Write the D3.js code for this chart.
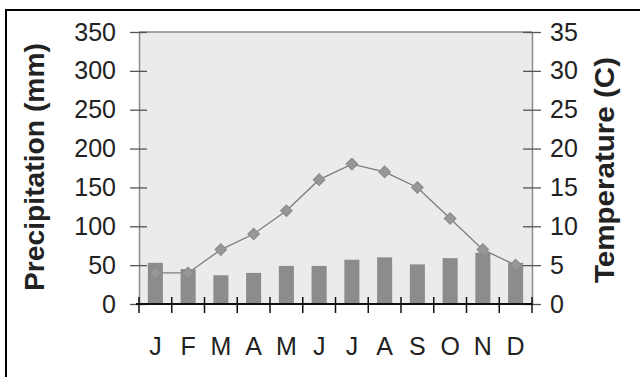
<!DOCTYPE html>
<html><head><meta charset="utf-8">
<script src="https://cdn.jsdelivr.net/npm/d3@7"></script>
<style>
body{margin:0;background:#fff;}
svg{display:block;}
text{font-family:"Liberation Sans",Arial,sans-serif;fill:#222;}
</style></head>
<body><svg id="c" width="640" height="377"></svg>
<script>
const months = ["J","F","M","A","M","J","J","A","S","O","N","D"];
const precipitation = [53, 45, 37, 40, 49, 49, 57, 60, 51, 59, 66, 53];
const temperature = [4, 4, 7, 9, 12, 16, 18, 17, 15, 11, 7, 5];
const precipTicks = [0, 50, 100, 150, 200, 250, 300, 350];
const tempTicks = [0, 5, 10, 15, 20, 25, 30, 35];
const leftTitle = "Precipitation (mm)";
const rightTitle = "Temperature (C)";

const svg = d3.select("#c");
const L = 139, R = 532, T = 32, B = 304;

// outer frame (left + top visible)
svg.append("rect").attr("x",6).attr("y",10).attr("width",700).attr("height",500)
  .attr("fill","#fff").attr("stroke","#000").attr("stroke-width",2);

const x = d3.scaleBand().domain(d3.range(months.length)).range([L,R]).padding(0);
const yP = d3.scaleLinear().domain([0,350]).range([B,T]);
const yT = d3.scaleLinear().domain([0,35]).range([B,T]);

// plot background
svg.append("rect").attr("x",L).attr("y",T).attr("width",R-L).attr("height",B-T)
  .attr("fill","#ebebeb");
svg.append("line").attr("x1",L).attr("x2",R).attr("y1",T).attr("y2",T)
  .attr("stroke","#8a8a8a").attr("stroke-width",1.5);

// temperature line (behind bars)
const line = d3.line().x((d,i)=>x(i)+x.bandwidth()/2).y(d=>yT(d));
svg.append("path").datum(temperature).attr("d",line)
  .attr("fill","none").attr("stroke","#7d7d7d").attr("stroke-width",1.3);

// bars
const bw = x.bandwidth()*0.46;
svg.selectAll("rect.bar").data(precipitation).enter().append("rect")
  .attr("class","bar")
  .attr("x",(d,i)=>x(i)+x.bandwidth()/2-bw/2)
  .attr("y",d=>yP(d)).attr("width",bw).attr("height",d=>yP(0)-yP(d))
  .attr("fill","#8c8c8c");

// markers (square diamonds)
const sym = d3.symbol().type(d3.symbolSquare).size(68);
svg.selectAll("path.mk").data(temperature).enter().append("path")
  .attr("class","mk").attr("d",sym)
  .attr("transform",(d,i)=>`translate(${x(i)+x.bandwidth()/2},${yT(d)}) rotate(45)`)
  .attr("fill","#979797").attr("stroke","#8a8a8a").attr("stroke-width",1);

// left axis
const gl = svg.append("g").attr("transform",`translate(${L},0)`)
  .call(d3.axisLeft(yP).tickValues(precipTicks).tickSize(0).tickFormat(d3.format("d")));
gl.select(".domain").attr("stroke","#8a8a8a").attr("stroke-width",1.5);
gl.selectAll(".tick text").attr("x",-23).attr("font-size",25).attr("fill","#222")
  .attr("font-family","Liberation Sans, Arial, sans-serif");
gl.selectAll(".tick").append("line").attr("x1",-9).attr("x2",8)
  .attr("stroke","#555").attr("stroke-width",1.3);

// right axis
const gr = svg.append("g").attr("transform",`translate(${R},0)`)
  .call(d3.axisRight(yT).tickValues(tempTicks).tickSize(0).tickFormat(d3.format("d")));
gr.select(".domain").attr("stroke","#8a8a8a").attr("stroke-width",1.5);
gr.selectAll(".tick text").attr("x",18).attr("font-size",25).attr("fill","#222")
  .attr("font-family","Liberation Sans, Arial, sans-serif");
gr.selectAll(".tick").append("line").attr("x1",-9).attr("x2",9)
  .attr("stroke","#555").attr("stroke-width",1.3);

// bottom axis
const xb = svg.append("g").attr("transform",`translate(0,${B})`);
xb.append("line").attr("x1",L-3).attr("x2",R).attr("stroke","#111").attr("stroke-width",2.2);
const edges = d3.range(months.length+1).map(i=> i<months.length ? x(i) : x(months.length-1)+x.bandwidth());
xb.selectAll("line.tk").data(edges).enter().append("line").attr("class","tk")
  .attr("x1",d=>d).attr("x2",d=>d).attr("y1",-7).attr("y2",9)
  .attr("stroke","#111").attr("stroke-width",1.5);
xb.selectAll("text.m").data(months).enter().append("text").attr("class","m")
  .attr("x",(d,i)=>x(i)+x.bandwidth()/2).attr("y",51)
  .attr("text-anchor","middle").attr("font-size",25).text(d=>d);

// titles
svg.append("text").attr("transform",`translate(44,167) rotate(-90)`)
  .attr("text-anchor","middle").attr("font-size",28).attr("font-weight","bold")
  .attr("textLength",248).attr("lengthAdjust","spacingAndGlyphs").text(leftTitle);
svg.append("text").attr("transform",`translate(614,170) rotate(-90)`)
  .attr("text-anchor","middle").attr("font-size",28).attr("font-weight","bold")
  .attr("textLength",226).attr("lengthAdjust","spacingAndGlyphs").text(rightTitle);
</script></body></html>
